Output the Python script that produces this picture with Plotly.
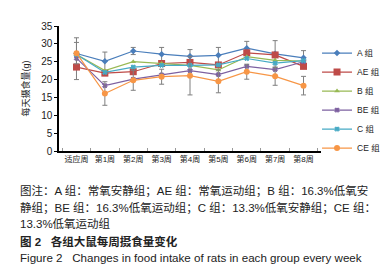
import plotly.graph_objects as go

weeks = ["适应周", "第1周", "第2周", "第3周", "第4周", "第5周", "第6周", "第7周", "第8周"]
groups = ["A 组", "AE 组", "B 组", "BE 组", "C 组", "CE 组"]

A_vals = [27.3, 25.1, 28.0, 27.1, 26.5, 26.8, 28.8, 27.2, 26.1]
AE_vals = [23.5, 21.8, 22.2, 24.5, 24.8, 24.1, 27.5, 26.9, 23.7]
B_vals = [27.0, 22.5, 25.0, 24.5, 24.0, 22.7, 26.4, 25.4, 25.2]
BE_vals = [26.0, 18.3, 20.1, 21.3, 22.5, 21.4, 23.7, 22.8, 25.0]
C_vals = [27.0, 22.0, 23.5, 24.0, 24.0, 24.1, 25.9, 24.6, 25.3]
CE_vals = [27.4, 16.1, 19.8, 20.8, 21.1, 19.5, 22.2, 20.9, 18.3]

A_err = [4.4, 2.6, 1.0, 1.9, 1.9, 2.2, 1.9, 3.7, 2.0]
AE_err = [3.5, 0, 0, 0, 0, 0, 0, 0, 0]
CE_err = [3.0, 3.3, 2.8, 2.1, 5.4, 3.2, 2.1, 2.5, 2.6]

series = [
    (groups[0], A_vals, A_err, "#4a7ebb", "diamond", 5),
    (groups[1], AE_vals, AE_err, "#be4b48", "square", 7),
    (groups[2], B_vals, None, "#98b954", "triangle-up", 5),
    (groups[3], BE_vals, None, "#7d60a0", "x", 4),
    (groups[4], C_vals, None, "#46aac5", "x", 4),
    (groups[5], CE_vals, CE_err, "#f79646", "circle", 6),
]

fig = go.Figure()
for name, vals, err, col, sym, sz in series:
    kw = {}
    if err is not None:
        kw["error_y"] = dict(type="data", array=err, visible=True,
                             color="#7f7f7f", thickness=1, width=2.5)
    fig.add_trace(go.Scatter(
        x=weeks, y=vals, name=name, mode="lines+markers",
        line=dict(color=col, width=1.2),
        marker=dict(symbol=sym, size=sz, color=col,
                    line=dict(width=1 if sym == "x" else 0, color=col)),
        **kw))

W, H = 390, 272
L, R, T, B = 51, 315, 14, 143

def px_x(px):
    return (px - L) / (R - L)

def px_y(py):
    return (B - py) / (B - T)

fig.update_layout(
    width=W, height=H,
    margin=dict(l=L, r=W - R, t=T, b=H - B),
    paper_bgcolor="white", plot_bgcolor="white",
    font=dict(family="Liberation Sans, Noto Sans CJK SC", size=9, color="#222"),
    showlegend=True,
    legend=dict(x=px_x(311), y=px_y(27), xanchor="left", yanchor="top",
                font=dict(size=8.5), bgcolor="rgba(0,0,0,0)", itemwidth=30,
                tracegroupgap=0),
    xaxis=dict(showline=True, linecolor="black", linewidth=1.5,
               ticks="inside", ticklen=3, tickcolor="#999", tickson="boundaries",
               tickangle=0, tickfont=dict(size=8), showgrid=False),
    yaxis=dict(range=[0, 35], dtick=5, showline=True, linecolor="black",
               linewidth=1.5, ticks="outside", ticklen=3, tickcolor="black",
               showgrid=False, zeroline=False, tickfont=dict(size=10),
               title=dict(text="每天摄食量(g)", font=dict(size=9), standoff=10)),
)

caption = [
    ("图注：A 组：常氧安静组；AE 组：常氧运动组；B 组：16.3%低氧安", 184, 11.5),
    ("静组；BE 组：16.3%低氧运动组；C 组：13.3%低氧安静组；CE 组：", 201, 11.5),
    ("13.3%低氧运动组", 218, 11.5),
    ("<b>图 2</b>   <b>各组大鼠每周摄食量变化</b>", 236, 11.5),
    ("Figure 2   Changes in food intake of rats in each group every week", 253, 11.6),
]
for text, py, fs in caption:
    fig.add_annotation(text=text, xref="paper", yref="paper",
                       x=px_x(10), y=px_y(py), xanchor="left", yanchor="middle",
                       showarrow=False,
                       font=dict(size=fs, color="#222",
                                 family="Liberation Sans, Noto Sans CJK SC"))

fig.write_html("out.html")
